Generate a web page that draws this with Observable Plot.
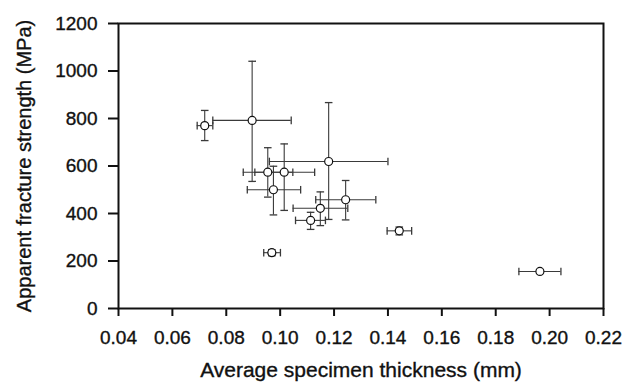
<!DOCTYPE html>
<html>
<head>
<meta charset="utf-8">
<script src="https://cdn.jsdelivr.net/npm/d3@7"></script>
<script src="https://cdn.jsdelivr.net/npm/@observablehq/plot@0.6"></script>
<style>
  html, body { margin: 0; padding: 0; background: #fff; }
  #chart svg { display: block; }
  #chart svg text { stroke: #111; stroke-width: 0.35px; }
</style>
</head>
<body>
<div id="chart"></div>
<script>
// Data
const thickness   = [0.0720, 0.0896, 0.0954, 0.1015, 0.1180, 0.0975, 0.1243, 0.1149, 0.1113, 0.0969, 0.1442, 0.1964];
const thicknessLo = [0.0692, 0.0750, 0.0863, 0.0906, 0.0960, 0.0878, 0.1132, 0.1048, 0.1057, 0.0939, 0.1397, 0.1886];
const thicknessHi = [0.0750, 0.1041, 0.1047, 0.1128, 0.1400, 0.1076, 0.1355, 0.1251, 0.1168, 0.1001, 0.1488, 0.2042];
const strength    = [770, 792, 574, 574, 619, 500, 458, 422, 371, 235, 327, 156];
const strengthLo  = [707, 535, 469, 413, 375, 394, 373, 349, 333, 222, 310, 148];
const strengthHi  = [834, 1041, 677, 693, 867, 599, 539, 491, 405, 248, 343, 164];

const xTicks = [0.04, 0.06, 0.08, 0.10, 0.12, 0.14, 0.16, 0.18, 0.20, 0.22];
const yTicks = [0, 200, 400, 600, 800, 1000, 1200];
const xTitle = "Average specimen thickness (mm)";
const yTitle = "Apparent fracture strength (MPa)";

const rows = thickness.map((x, i) => ({
  x, y: strength[i],
  xlo: thicknessLo[i], xhi: thicknessHi[i],
  ylo: strengthLo[i], yhi: strengthHi[i]
}));

// cap symbols for error bars
const hCap = { draw(ctx, size) { const r = Math.sqrt(size / Math.PI); ctx.moveTo(-r, 0); ctx.lineTo(r, 0); } };
const vCap = { draw(ctx, size) { const r = Math.sqrt(size / Math.PI); ctx.moveTo(0, -r); ctx.lineTo(0, r); } };

const barStroke = "#3a3a3a";

const chart = Plot.plot({
  width: 640,
  height: 386,
  marginLeft: 118,
  marginRight: 37,
  marginTop: 23,
  marginBottom: 78,
  style: { fontFamily: "'Liberation Sans', Arial, sans-serif", fontSize: "19px", color: "#111", background: "#fff" },
  x: { domain: [0.04, 0.22] },
  y: { domain: [0, 1200] },
  marks: [
    Plot.axisX({ ticks: xTicks, tickFormat: d3.format(".2f"), tickSize: 8, tickPadding: 14, strokeWidth: 2, label: null, fontSize: 19 }),
    Plot.axisY({ ticks: yTicks, tickFormat: d => String(d), tickSize: 10, tickPadding: 11, strokeWidth: 2, label: null, fontSize: 19 }),
    Plot.frame({ strokeWidth: 2, stroke: "#111" }),
    // error bars
    Plot.ruleX(rows, { x: "x", y1: "ylo", y2: "yhi", stroke: barStroke, strokeWidth: 1.1 }),
    Plot.ruleY(rows, { y: "y", x1: "xlo", x2: "xhi", stroke: barStroke, strokeWidth: 1.1 }),
    Plot.dot(rows, { x: "x", y: "ylo", symbol: hCap, r: 3.8, fill: "none", stroke: barStroke, strokeWidth: 1.3 }),
    Plot.dot(rows, { x: "x", y: "yhi", symbol: hCap, r: 3.8, fill: "none", stroke: barStroke, strokeWidth: 1.3 }),
    Plot.dot(rows, { x: "xlo", y: "y", symbol: vCap, r: 3.8, fill: "none", stroke: barStroke, strokeWidth: 1.3 }),
    Plot.dot(rows, { x: "xhi", y: "y", symbol: vCap, r: 3.8, fill: "none", stroke: barStroke, strokeWidth: 1.3 }),
    // points
    Plot.dot(rows, { x: "x", y: "y", r: 4, fill: "white", stroke: "#111", strokeWidth: 1.2 }),
    // axis titles
    Plot.text([xTitle], { frameAnchor: "bottom", dy: 62, textAnchor: "middle", lineAnchor: "middle", fontSize: 21, fill: "#111" }),
    Plot.text([yTitle], { frameAnchor: "left", dx: -94, rotate: -90, textAnchor: "middle", lineAnchor: "middle", fontSize: 20, fill: "#111" })
  ]
});

document.getElementById("chart").appendChild(chart);
</script>
</body>
</html>
